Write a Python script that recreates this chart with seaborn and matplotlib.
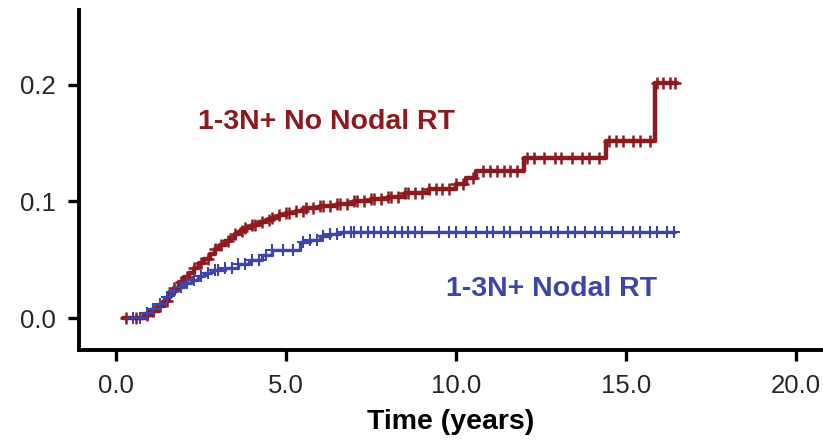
import numpy as np
import pandas as pd
import matplotlib
matplotlib.use("Agg")
import matplotlib.pyplot as plt
import seaborn as sns

# ---- data ----
red_times = [0.2, 0.9, 1.1, 1.25, 1.4, 1.55, 1.7, 1.85, 2.0, 2.15, 2.3, 2.45, 2.6, 2.75, 2.9,
             3.05, 3.2, 3.35, 3.5, 3.65, 3.8, 4.0, 4.2, 4.4, 4.6, 4.8, 5.0, 5.3, 5.6, 6.0, 6.5,
             7.0, 7.5, 8.0, 8.5, 9.2, 10.0, 10.3, 10.6, 12.0, 14.4, 15.85, 16.5]
red_values = [0.0, 0.003, 0.006, 0.010, 0.015, 0.021, 0.026, 0.031, 0.035, 0.039, 0.043,
              0.047, 0.051, 0.055, 0.059, 0.063, 0.066, 0.069, 0.072, 0.075, 0.077, 0.080,
              0.082, 0.084, 0.086, 0.088, 0.090, 0.092, 0.094, 0.096, 0.098, 0.100, 0.102,
              0.104, 0.107, 0.111, 0.115, 0.120, 0.126, 0.137, 0.152, 0.2015, 0.2015]

blue_times = [0.5, 0.8, 1.0, 1.2, 1.4, 1.6, 1.8, 2.0, 2.2, 2.4, 2.6, 2.8, 3.2, 3.6, 3.9, 4.3,
              4.6, 5.4, 5.7, 6.0, 6.3, 6.6, 16.45]
blue_values = [0.0, 0.004, 0.008, 0.012, 0.018, 0.023, 0.027, 0.030, 0.033, 0.036, 0.039,
               0.041, 0.043, 0.046, 0.050, 0.054, 0.058, 0.065, 0.067, 0.070, 0.072, 0.074,
               0.074]

red_censor = [0.3, 0.6, 0.9, 1.1, 1.3, 1.5, 1.7, 1.9, 2.1, 2.3, 2.5, 2.7, 2.9, 3.1, 3.3, 3.5,
              3.7, 3.8, 4.0, 4.1, 4.3, 4.5, 4.6, 4.8, 5.0, 5.1, 5.3, 5.5, 5.6, 5.8, 6.0, 6.1,
              6.3, 6.5, 6.6, 6.8, 7.0, 7.1, 7.3, 7.5, 7.6, 7.8, 8.0, 8.1, 8.3, 8.5, 8.6, 8.8,
              9.0, 9.2, 9.4, 9.6, 9.8, 10.0, 10.2, 10.5, 10.8, 11.0, 11.2, 11.4, 11.6, 11.8,
              12.1, 12.3, 12.6, 12.9, 13.1, 13.4, 13.7, 13.9, 14.2, 14.5, 14.7, 14.9, 15.2,
              15.4, 15.7, 15.9, 16.1, 16.3, 16.45]
blue_censor = [0.5, 0.7, 0.9, 1.1, 1.3, 1.5, 1.7, 1.9, 2.1, 2.3, 2.5, 2.7, 2.9, 3.0, 3.2, 3.4,
               3.6, 3.8, 4.0, 4.2, 4.4, 4.6, 4.9, 5.2, 5.5, 5.7, 5.9, 6.1, 6.3, 6.5, 6.7, 6.9,
               7.0, 7.2, 7.4, 7.6, 7.8, 8.0, 8.2, 8.4, 8.6, 8.8, 9.0, 9.5, 9.8, 10.0, 10.3,
               10.6, 10.9, 11.1, 11.4, 11.6, 11.9, 12.2, 12.5, 12.8, 13.0, 13.3, 13.5, 13.8,
               14.1, 14.3, 14.6, 14.9, 15.2, 15.4, 15.7, 15.9, 16.2, 16.4]

x_ticks = [0.0, 5.0, 10.0, 15.0, 20.0]
y_ticks = [0.0, 0.1, 0.2]
label_red = "1-3N+ No Nodal RT"
label_blue = "1-3N+ Nodal RT"
x_label = "Time (years)"

RED = "#8c1a1e"
BLUE = "#3d46a8"

sns.set_style("white")
plt.rcParams['font.family'] = ['Liberation Sans', 'DejaVu Sans']

fig = plt.figure(figsize=(8.23, 4.45), dpi=100)
ax = fig.add_axes([79 / 823, 95 / 445, (823 - 79) / 823, (350 - 10) / 445])


def step_at(times, values, t):
    idx = np.searchsorted(np.asarray(times), t, side="right") - 1
    idx = np.clip(idx, 0, len(values) - 1)
    return np.asarray(values)[idx]


red_df = pd.DataFrame({"t": red_times, "v": red_values})
blue_df = pd.DataFrame({"t": blue_times, "v": blue_values})
red_c = pd.DataFrame({"t": red_censor, "v": step_at(red_times, red_values, red_censor)})
blue_c = pd.DataFrame({"t": blue_censor, "v": step_at(blue_times, blue_values, blue_censor)})

sns.lineplot(data=red_df, x="t", y="v", ax=ax, color=RED, lw=3.2,
             drawstyle="steps-post", estimator=None, sort=False)
sns.scatterplot(data=red_c, x="t", y="v", ax=ax, color=RED, marker="+", s=80,
                linewidth=1.8, zorder=3)
sns.lineplot(data=blue_df, x="t", y="v", ax=ax, color=BLUE, lw=2.4,
             drawstyle="steps-post", estimator=None, sort=False)
sns.scatterplot(data=blue_c, x="t", y="v", ax=ax, color=BLUE, marker="+", s=70,
                linewidth=1.5, zorder=3)

ax.set_xlim((79 - 116) / 34, (823 - 116) / 34)
ax.set_ylim((318 - 350) / 1165, (318 - 10) / 1165)
ax.set_xticks(x_ticks)
ax.set_xticklabels([f"{v:.1f}" for v in x_ticks])
ax.set_yticks(y_ticks)
ax.set_yticklabels([f"{v:.1f}" for v in y_ticks])

for s in ["top", "right"]:
    ax.spines[s].set_visible(False)
for s in ["left", "bottom"]:
    ax.spines[s].set_linewidth(2.8)
    ax.spines[s].set_color("black")

ax.tick_params(axis="both", which="major", direction="out", length=8, width=2.4,
               color="black", labelsize=18.5, labelcolor="#262626", pad=9,
               bottom=True, left=True)

ax.set_xlabel(x_label, fontsize=20.5, fontweight="bold", labelpad=8, color="black")
ax.set_ylabel("")

ax.text(6.2, 0.168, label_red, color=RED, fontsize=20.5, fontweight="bold",
        ha="center", va="center")
ax.text(12.8, 0.0249, label_blue, color=BLUE, fontsize=20.5, fontweight="bold",
        ha="center", va="center")

fig.savefig("out.png", dpi=100)
